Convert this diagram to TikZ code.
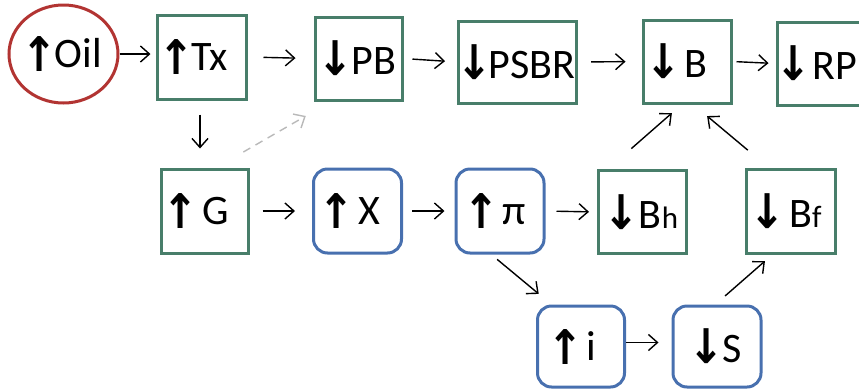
\documentclass[tikz,border=0pt]{standalone}
\usepackage{fontspec}
\setmainfont{Carlito}
\newfontfamily\arrowfont{DejaVu Sans}
\usetikzlibrary{arrows.meta,calc,shapes.geometric}
\definecolor{boxgreen}{RGB}{72,126,106}
\definecolor{oilred}{RGB}{178,52,50}
\definecolor{boxblue}{RGB}{72,112,175}
% tall bold arrows in front of each label: fixed ink size, set relative to the baseline
\newcommand{\arrglyph}[2]{\kern-3.5pt\raisebox{#2}{\resizebox*{36pt}{35pt}{\raisebox{\depth}{\arrowfont\bfseries #1}}}\kern-3.5pt}
\newcommand{\uparr}{\arrglyph{↑}{-4pt}}
\newcommand{\dnarr}{\arrglyph{↓}{-1.5pt}}
\newcommand{\lowidx}[1]{{\fontsize{31}{33}\selectfont #1}}
\newcommand{\gap}[1]{\kern#1pt}

\begin{document}
\begin{tikzpicture}[x=1pt,y=-1pt,
  every node/.style={font=\fontsize{42}{44}\selectfont, inner sep=0pt},
  greenbox/.style={draw=boxgreen, line width=3pt, minimum width=87pt, minimum height=83pt},
  bluebox/.style={draw=boxblue, line width=3pt, rounded corners=14pt, minimum width=88pt, minimum height=83pt},
  oilring/.style={draw=oilred, line width=3pt, ellipse, minimum width=105pt, minimum height=98pt},
  flow/.style={-{Straight Barb[length=9pt,width=16pt]}, line width=1.4pt},
  hint/.style={flow, draw=gray!55, dash pattern=on 8pt off 6pt}
]
\useasboundingbox (0,0) rectangle (859,389);

% top row
\node[oilring] (oil) at (63.5,54) {\uparr\gap{1}Oil};
\node[greenbox, minimum width=89pt, minimum height=84pt] (tx) at (201.5,57) {\uparr Tx\gap{13}};
\node[greenbox] (pb) at (358.5,58.5) {\dnarr\gap{2}PB};
\node[greenbox, minimum width=118pt, minimum height=82pt] (psbr) at (517.5,62) {\dnarr PSBR};
\node[greenbox, minimum width=88pt] (b) at (687,61.5) {\dnarr\gap{6}B\gap{18}};
\node[greenbox, minimum width=88pt] (rp) at (821,63.5) {\dnarr\gap{5}RP\gap{6}};

% middle row
\node[greenbox, minimum height=84pt] (g) at (204.5,211) {\uparr\gap{7}G\gap{14}};
\node[bluebox, minimum height=84pt] (x) at (357.5,211) {\uparr\gap{8}X\gap{13}};
\node[bluebox, minimum height=84pt] (pi) at (500,211) {\uparr\gap{6}π\gap{7}};
\node[greenbox, minimum width=88pt] (bh) at (642.5,212) {\dnarr\gap{3}B\lowidx{h}};
\node[greenbox, minimum width=89pt, minimum height=84pt] (bf) at (790.5,211) {\dnarr\gap{7}B\lowidx{f}\gap{6}};

% bottom row
\node[bluebox, minimum width=87pt, minimum height=81pt] (i) at (581,346.5) {\uparr\gap{6}i\gap{15}};
\node[bluebox, minimum height=81pt] (s) at (717,346.5) {\dnarr\gap{2}S};

% horizontal links
\draw[flow, shorten >=5pt] (oil.east) -- (tx.west |- oil.east);
\draw[flow, shorten <=16pt, shorten >=18pt] (tx.east) -- (pb.west);
\draw[flow, shorten <=9pt, shorten >=12pt] (pb.east) -- (psbr.west);
\draw[flow, shorten <=13pt, shorten >=16pt] (psbr.east) -- (b.west);
\draw[flow, shorten <=4pt, shorten >=7pt] (b.east) -- (rp.west);
\draw[flow, shorten <=14pt, shorten >=19pt] ($(tx.south)+(-1.5,0)$) -- ($(g.north)+(-4.5,0)$);
\draw[flow, shorten <=13pt, shorten >=17pt] (g.east) -- (x.west);
\draw[flow, shorten <=9pt, shorten >=10pt] (x.east) -- (pi.west);
\draw[flow, shorten <=11pt, shorten >=8pt] (pi.east) -- (bh.west);
\draw[flow, shorten >=13pt] ($(i.east)+(0,-4)$) -- ($(s.west)+(0,-4)$);

% diagonal links
\draw[hint, shorten <=31pt, shorten >=29pt] ($(g.north)+(12,0)$) -- ($(pb.south)+(-27.6,0)$);
\draw[flow, shorten <=31pt, shorten >=13pt] ($(bh.north)+(-34.5,0)$) -- ($(b.south)+(-5.3,0)$);
\draw[flow, shorten <=27pt, shorten >=18pt] ($(bf.north)+(-22,0)$) -- ($(b.south)+(6.3,0)$);
\draw[flow, shorten <=7.6pt, shorten >=16.6pt] ($(pi.south)+(-8.7,0)$) -- ($(i.north)+(-29.5,0)$);
\draw[flow, shorten <=13pt, shorten >=10pt] ($(s.north)+(-1.7,0)$) -- ($(bf.south)+(-18,0)$);
\end{tikzpicture}
\end{document}
